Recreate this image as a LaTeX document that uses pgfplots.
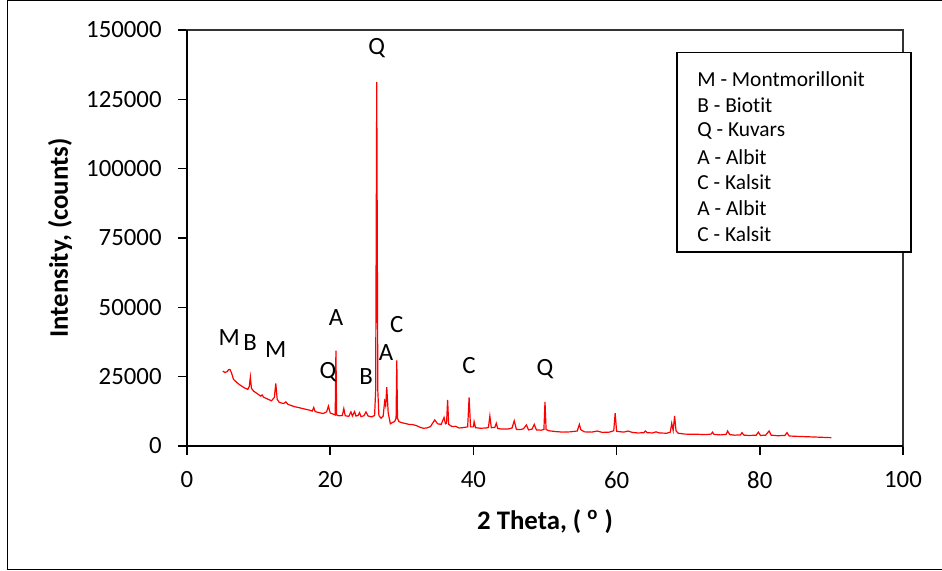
\documentclass[border=0pt]{standalone}
\usepackage{pgfplots}
\pgfplotsset{compat=1.18}
\usepackage{fontspec}
\setmainfont{Carlito}[Ligatures=NoCommon]
\begin{document}
\fontsize{12.4}{14.9}\selectfont
\begin{tikzpicture}
\useasboundingbox (-93.5pt,-62.5pt) rectangle (377.5pt,223pt);
\begin{axis}[
  at={(0pt,0pt)}, anchor=south west,
  scale only axis, width=358pt, height=208pt,
  xmin=0, xmax=100, ymin=0, ymax=150000,
  xtick={0,20,40,60,80,100},
  ytick={0,25000,50000,75000,100000,125000,150000},
  xtick pos=bottom, ytick pos=left,
  axis line style={line width=0.6pt, black!80},
  tick style={black, line width=0.8pt},
  tick align=outside, major tick length=4.5pt,
  /pgf/number format/fixed,
  /pgf/number format/precision=0,
  /pgf/number format/1000 sep={},
  /pgf/number format/assume math mode=true,
  scaled y ticks=false, scaled x ticks=false,
  ticklabel style={font=\fontsize{12.4}{14.9}\selectfont},
  xticklabel style={inner sep=0pt, yshift=-8pt},
  yticklabel style={inner sep=0pt, xshift=-8pt},
  xlabel={\textbf{2 Theta, ( \textsuperscript{o} )}},
  ylabel={\textbf{Intensity, (counts)}},
  label style={font=\fontsize{13.4}{16}\selectfont},
  xlabel style={at={(rel axis cs:0.5,0)}, anchor=center, yshift=-38pt},
  ylabel style={at={(rel axis cs:0,0.5)}, anchor=center, yshift=63.5pt},
  clip=false,
]
\addplot[red, line width=0.6pt] coordinates {
(5.0,27000)(5.3,26500)(5.6,26800)(5.8,27500)(6.0,27600)(6.2,26500)(6.5,24000)
(7.0,22800)(7.5,21800)(8.0,21000)(8.5,20400)(8.7,21500)(8.85,24900)(9.0,20800)
(9.3,19800)(9.8,18900)(10.3,18000)(10.5,18400)(10.7,17600)(11.2,17000)(11.8,16300)
(12.2,17500)(12.4,22600)(12.6,16800)(12.9,15700)(13.5,15300)(13.8,15900)(14.1,15000)
(15.0,14200)(16.0,13600)(17.0,13000)(17.5,12600)(17.7,13900)(17.9,12400)(18.5,12000)
(19.0,11700)(19.5,12300)(19.75,14400)(20.0,11900)(20.5,11400)(20.7,11200)(20.8,34400)
(20.9,11200)(21.2,10900)(21.7,11000)(21.9,13500)(22.1,10900)(22.6,10700)(22.9,12300)
(23.1,10800)(23.4,12400)(23.6,10800)(23.9,11000)(24.1,12000)(24.3,10600)(24.7,10900)
(25.0,12300)(25.3,10800)(25.8,10500)(26.2,11000)(26.35,20000)(26.5,131300)(26.65,20000)
(26.8,11000)(27.1,10000)(27.4,10800)(27.6,16000)(27.75,14500)(27.9,21200)(28.1,12000)
(28.4,8000)(28.7,8500)(29.0,8800)(29.2,10000)(29.3,30900)(29.4,10000)(29.6,8800)
(30.0,8400)(30.5,8100)(31.0,7800)(31.5,7700)(32.0,7400)(32.5,6800)(33.0,6400)
(33.5,6500)(34.0,7000)(34.6,9400)(35.0,8000)(35.5,7800)(35.9,10300)(36.1,8000)
(36.25,8200)(36.4,16600)(36.55,7800)(37.0,7000)(37.5,7100)(38.0,6500)(38.5,6600)
(39.2,6900)(39.4,17500)(39.6,6900)(40.0,6900)(40.1,8800)(40.3,6600)(41.0,6400)
(41.8,6500)(42.1,6700)(42.3,10800)(42.5,6600)(43.0,6700)(43.2,8200)(43.4,6300)
(44.0,6100)(44.8,6100)(45.4,6500)(45.7,9100)(46.0,6000)(46.5,5900)(47.0,6200)
(47.4,7600)(47.7,5800)(48.2,6100)(48.5,7800)(48.8,5800)(49.5,5700)(49.85,6000)
(50.0,15900)(50.15,6000)(50.5,5500)(51.5,5200)(52.5,5000)(53.5,5100)(54.5,5400)
(54.8,7800)(55.0,5900)(55.5,5100)(56.5,5000)(57.3,5400)(58.0,4900)(59.0,5000)
(59.6,5500)(59.8,11800)(60.0,5300)(60.3,5200)(61.0,5000)(61.6,5400)(62.2,4900)
(63.0,4700)(63.8,4800)(64.0,5400)(64.3,4800)(65.0,4700)(65.5,5100)(66.0,4700)
(67.0,4600)(67.5,5000)(67.7,8200)(67.9,5600)(68.1,10800)(68.3,5500)(68.6,4600)
(69.5,4300)(70.5,4200)(71.5,4200)(72.5,4100)(73.2,4300)(73.4,5000)(73.6,4200)
(74.5,4000)(75.3,4200)(75.5,5400)(75.8,4100)(76.5,3900)(77.3,4000)(77.5,4800)
(77.8,3900)(78.5,3800)(79.5,3900)(79.8,5000)(80.1,3800)(80.8,3900)(81.3,5400)
(81.6,3900)(82.5,3700)(83.5,3800)(83.8,4800)(84.1,3600)(85.0,3500)(86.0,3400)
(87.0,3300)(88.0,3200)(89.0,3100)(90.0,3000)
};
\draw[black, line width=1pt] (rel axis cs:0,1) -- (rel axis cs:0,0) -- (rel axis cs:1,0);
\node at (axis cs:5.9,38950) {M};
\node at (axis cs:8.8,37140) {B};
\node at (axis cs:12.4,34620) {M};
\node at (axis cs:20.8,46160) {A};
\node at (axis cs:19.7,26690) {Q};
\node at (axis cs:25.0,24880) {B};
\node at (axis cs:26.5,143500) {Q};
\node at (axis cs:27.8,33540) {A};
\node at (axis cs:29.3,43630) {C};
\node at (axis cs:39.4,28850) {C};
\node at (axis cs:50.0,27770) {Q};
\end{axis}
\draw[line width=0.6pt, fill=white] (245pt,97pt) rectangle (362pt,196.8pt);
\foreach \t [count=\i from 0] in {M - Montmorillonit, B - Biotit, Q - Kuvars, A - Albit, C - Kalsit, A - Albit, C - Kalsit}
  \node[anchor=west, inner sep=0pt, font=\fontsize{10.7}{13}\selectfont] at (255pt,{(183.3-12.9*\i)*1pt}) {\t};
\draw[line width=0.85pt] (380pt,222.75pt) -- (-89.75pt,222.75pt) -- (-89.75pt,-61.75pt) -- (380pt,-61.75pt);
\end{tikzpicture}
\end{document}
